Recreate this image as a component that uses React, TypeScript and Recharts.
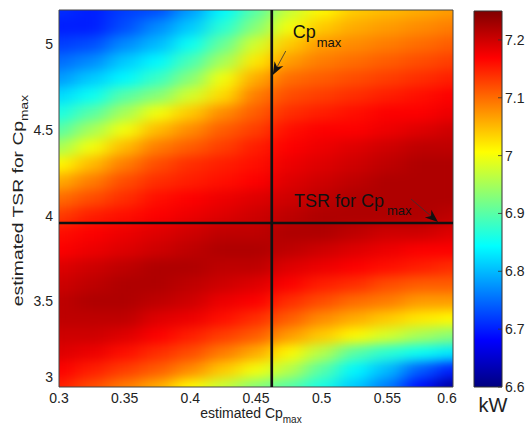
import {
  ScatterChart,
  Scatter,
  XAxis,
  YAxis,
  ReferenceLine,
  ReferenceArea,
  Label,
  BarChart,
  Bar,
} from "recharts";

const FONT = "'Liberation Sans', Arial, Helvetica, sans-serif";

// grid columns: estimated Cp_max
const cpValues = [0.3, 0.325, 0.35, 0.375, 0.4, 0.425, 0.45, 0.475, 0.5, 0.525, 0.55, 0.575, 0.6];
// grid rows: estimated TSR for Cp_max (top row first)
const tsrValues = [5.2, 5.1, 5.0, 4.9, 4.8, 4.7, 4.6, 4.5, 4.4, 4.3, 4.2, 4.1, 4.0, 3.9, 3.8, 3.7, 3.6, 3.5, 3.4, 3.3, 3.2, 3.1, 3.0];
// power (kW), one row per TSR value
const powerKW = [
  [6.71, 6.70, 6.72, 6.73, 6.78, 6.84, 6.90, 6.97, 7.01, 7.04, 7.05, 7.06, 7.07],
  [6.70, 6.70, 6.73, 6.77, 6.81, 6.87, 6.93, 7.00, 7.04, 7.06, 7.07, 7.08, 7.09],
  [6.72, 6.73, 6.77, 6.80, 6.85, 6.91, 6.98, 7.04, 7.07, 7.08, 7.09, 7.10, 7.11],
  [6.75, 6.77, 6.81, 6.84, 6.89, 6.95, 7.02, 7.07, 7.09, 7.10, 7.11, 7.12, 7.13],
  [6.78, 6.81, 6.84, 6.88, 6.93, 7.00, 7.06, 7.10, 7.11, 7.12, 7.13, 7.14, 7.15],
  [6.82, 6.85, 6.90, 6.93, 6.98, 7.03, 7.09, 7.12, 7.13, 7.14, 7.15, 7.16, 7.17],
  [6.86, 6.90, 6.95, 7.00, 7.04, 7.08, 7.11, 7.14, 7.15, 7.16, 7.17, 7.17, 7.18],
  [6.90, 6.95, 7.00, 7.05, 7.08, 7.11, 7.13, 7.16, 7.17, 7.17, 7.18, 7.19, 7.20],
  [6.95, 7.00, 7.05, 7.09, 7.11, 7.13, 7.15, 7.17, 7.18, 7.19, 7.20, 7.21, 7.21],
  [7.01, 7.05, 7.09, 7.12, 7.14, 7.15, 7.16, 7.18, 7.19, 7.20, 7.21, 7.22, 7.22],
  [7.06, 7.09, 7.12, 7.14, 7.15, 7.16, 7.17, 7.19, 7.20, 7.21, 7.22, 7.22, 7.22],
  [7.10, 7.12, 7.14, 7.16, 7.17, 7.18, 7.19, 7.20, 7.21, 7.22, 7.22, 7.22, 7.22],
  [7.13, 7.15, 7.16, 7.17, 7.18, 7.19, 7.20, 7.21, 7.22, 7.22, 7.22, 7.22, 7.21],
  [7.16, 7.17, 7.18, 7.19, 7.20, 7.21, 7.21, 7.22, 7.22, 7.21, 7.20, 7.20, 7.19],
  [7.17, 7.18, 7.19, 7.20, 7.21, 7.22, 7.22, 7.21, 7.20, 7.19, 7.18, 7.17, 7.17],
  [7.19, 7.20, 7.21, 7.22, 7.22, 7.21, 7.21, 7.19, 7.18, 7.17, 7.16, 7.15, 7.14],
  [7.20, 7.21, 7.22, 7.22, 7.21, 7.20, 7.19, 7.17, 7.15, 7.14, 7.12, 7.11, 7.11],
  [7.21, 7.22, 7.22, 7.21, 7.20, 7.18, 7.17, 7.14, 7.12, 7.10, 7.09, 7.07, 7.07],
  [7.21, 7.21, 7.21, 7.19, 7.18, 7.16, 7.14, 7.11, 7.08, 7.06, 7.04, 7.02, 7.01],
  [7.20, 7.20, 7.19, 7.17, 7.15, 7.13, 7.11, 7.07, 7.04, 7.01, 6.98, 6.95, 6.93],
  [7.19, 7.18, 7.16, 7.14, 7.12, 7.09, 7.06, 7.01, 6.96, 6.90, 6.87, 6.85, 6.83],
  [7.17, 7.15, 7.13, 7.11, 7.08, 7.04, 7.00, 6.96, 6.90, 6.84, 6.80, 6.74, 6.70],
  [7.15, 7.12, 7.09, 7.06, 7.01, 6.97, 6.93, 6.90, 6.86, 6.81, 6.76, 6.69, 6.62],
];

const xTicks = [0.3, 0.35, 0.4, 0.45, 0.5, 0.55, 0.6];
const yTicks = [3, 3.5, 4, 4.5, 5];
const colorTicks = [6.6, 6.7, 6.8, 6.9, 7, 7.1, 7.2];
const colorRange = [6.6, 7.25];
const cpMaxEstimate = 0.462;
const tsrEstimate = 3.957;

// layout
const W = 528;
const H = 429;
const MARGIN = { top: 10, right: 75, bottom: 0, left: 0 };
const Y_AXIS_W = 59;
const X_AXIS_H = 42;
const PLOT_LEFT = MARGIN.left + Y_AXIS_W;
const PLOT_TOP = MARGIN.top;
const PLOT_W = W - MARGIN.right - PLOT_LEFT;
const PLOT_H = H - MARGIN.bottom - X_AXIS_H - PLOT_TOP;
const CELL_W = (PLOT_W * (cpValues[1] - cpValues[0])) / (cpValues[cpValues.length - 1] - cpValues[0]);
const CELL_H = (PLOT_H * (tsrValues[0] - tsrValues[1])) / (tsrValues[0] - tsrValues[tsrValues.length - 1]);

const heatData = tsrValues.flatMap((tsr, r) => cpValues.map((cp, c) => ({ cp, tsr, kw: powerKW[r][c] })));

const clamp = (v: number) => Math.max(0, Math.min(1, v));
function jet(value: number) {
  const t = clamp((value - colorRange[0]) / (colorRange[1] - colorRange[0]));
  const r = clamp(1.5 - Math.abs(4 * t - 3));
  const g = clamp(1.5 - Math.abs(4 * t - 2));
  const b = clamp(1.5 - Math.abs(4 * t - 1));
  return `rgb(${Math.round(r * 255)},${Math.round(g * 255)},${Math.round(b * 255)})`;
}
const jetStops = [0, 0.125, 0.375, 0.625, 0.875, 1];

const HeatCell = (props: any) => {
  const { cx, cy, payload } = props;
  return (
    <rect
      x={cx - CELL_W / 2}
      y={cy - CELL_H / 2}
      width={CELL_W + 0.6}
      height={CELL_H + 0.6}
      fill={jet(payload.kw)}
    />
  );
};

const XTick = ({ x, y, payload }: any) => (
  <text x={payload.value === 0.6 ? x - 6 : x} y={y} dy="0.71em" textAnchor="middle" fontSize={14} fill="#222" fontFamily={FONT}>
    {payload.value}
  </text>
);

const YTick = ({ x, y, payload }: any) => (
  <text x={x} y={payload.value === 3 ? y - 10 : y} dy="0.355em" textAnchor="end" fontSize={14} fill="#222" fontFamily={FONT}>
    {payload.value}
  </text>
);

const ColorTick = ({ x, y, payload }: any) => (
  <g>
    <line x1={x - 7} x2={x - 3} y1={y} y2={y} stroke="#333" strokeWidth={0.8} />
    <text x={x} y={y} dy="0.355em" textAnchor="start" fontSize={14} fill="#222" fontFamily={FONT}>
      {payload.value}
    </text>
  </g>
);

function Arrow({ x1, y1, x2, y2, head = 13, half = 5 }: any) {
  const len = Math.hypot(x2 - x1, y2 - y1);
  const ux = (x2 - x1) / len;
  const uy = (y2 - y1) / len;
  const bx = x2 - ux * head;
  const by = y2 - uy * head;
  const nx = x2 - ux * head * 0.7;
  const ny = y2 - uy * head * 0.7;
  const pts = [
    [x2, y2],
    [bx - uy * half, by + ux * half],
    [nx, ny],
    [bx + uy * half, by - ux * half],
  ]
    .map((p) => p.join(","))
    .join(" ");
  return (
    <g>
      <line x1={x1} y1={y1} x2={nx} y2={ny} stroke="#333" strokeWidth={0.8} />
      <polygon points={pts} fill="#111" />
    </g>
  );
}

const CpLabel = ({ viewBox }: any) => {
  const { x, y } = viewBox;
  return (
    <g>
      <text x={x + 21} y={y + 28} fontSize={18} fill="#111" fontFamily={FONT}>
        Cp
        <tspan dx={1} dy={9} fontSize={13}>max</tspan>
      </text>
      <Arrow x1={x + 14} y1={y + 41} x2={x + 1} y2={y + 65} />
    </g>
  );
};

const TsrLabel = ({ viewBox }: any) => {
  const { x, y, width } = viewBox;
  const right = x + width;
  return (
    <g>
      <text x={right - 159} y={y - 16} fontSize={18} fill="#111" fontFamily={FONT}>
        TSR for Cp
        <tspan dx={3} dy={8} fontSize={13}>max</tspan>
      </text>
      <Arrow x1={right - 42} y1={y - 24} x2={right - 15} y2={y - 1} />
    </g>
  );
};

const XTitle = ({ viewBox }: any) => (
  <text x={viewBox.x + viewBox.width / 2 - 5} y={viewBox.y + 31} textAnchor="middle" fontSize={14} fill="#222" fontFamily={FONT}>
    estimated Cp
    <tspan dy={5} fontSize={10}>max</tspan>
  </text>
);

const YTitle = ({ viewBox }: any) => (
  <g transform={`translate(23, ${viewBox.y + viewBox.height / 2 + 2}) rotate(-90) scale(1.38, 1)`}>
    <text x={0} y={0} textAnchor="middle" fontSize={14} fill="#222" fontFamily={FONT}>
      estimated TSR for Cp
      <tspan dy={5} fontSize={10}>max</tspan>
    </text>
  </g>
);

const UnitLabel = ({ viewBox }: any) => (
  <text x={viewBox.x + viewBox.width / 2 + 5} y={viewBox.y + 25} textAnchor="middle" fontSize={20} fill="#222" fontFamily={FONT}>
    kW
  </text>
);

const colorBarData = [{ name: "kW", span: colorRange }];

export default function App() {
  return (
    <div style={{ position: "absolute", left: 0, top: 0, width: W, height: H, background: "#fff", fontFamily: FONT }}>
      <style>{`.heat-layer { filter: url(#heatSmooth); }`}</style>
      <div style={{ position: "absolute", left: 0, top: 0 }}>
        <ScatterChart width={W} height={H} margin={MARGIN}>
          <defs>
            <filter
              id="heatSmooth"
              filterUnits="userSpaceOnUse"
              x={PLOT_LEFT}
              y={PLOT_TOP}
              width={PLOT_W}
              height={PLOT_H}
              colorInterpolationFilters="sRGB"
            >
              <feGaussianBlur stdDeviation={`${CELL_W * 0.32} ${CELL_H * 0.32}`} />
              <feComponentTransfer>
                <feFuncA type="table" tableValues="1 1" />
              </feComponentTransfer>
            </filter>
          </defs>
          <XAxis
            type="number"
            dataKey="cp"
            domain={[0.3, 0.6]}
            ticks={xTicks}
            height={X_AXIS_H}
            tickLine={false}
            axisLine={false}
            tickSize={0}
            tickMargin={6}
            tick={<XTick />}
          >
            <Label content={(p: any) => <XTitle viewBox={p.viewBox} />} />
          </XAxis>
          <YAxis
            type="number"
            dataKey="tsr"
            domain={[3, 5.2]}
            ticks={yTicks}
            width={Y_AXIS_W}
            tickLine={false}
            axisLine={false}
            tickSize={0}
            tickMargin={6}
            tick={<YTick />}
          >
            <Label content={(p: any) => <YTitle viewBox={p.viewBox} />} />
          </YAxis>
          <Scatter
            className="heat-layer"
            data={heatData}
            shape={HeatCell}
            isAnimationActive={false}
            zIndex={0}
          />
          <ReferenceArea x1={0.3} x2={0.6} y1={3} y2={5.2} fill="none" stroke="#444" strokeWidth={1} zIndex={1500} />
          <ReferenceLine
            x={cpMaxEstimate}
            stroke="#111"
            strokeWidth={2.7}
            zIndex={1600}
            label={(p: any) => <CpLabel viewBox={p.viewBox} />}
          />
          <ReferenceLine
            y={tsrEstimate}
            stroke="#111"
            strokeWidth={2.5}
            zIndex={1600}
            label={(p: any) => <TsrLabel viewBox={p.viewBox} />}
          />
        </ScatterChart>
      </div>
      <div style={{ position: "absolute", left: 448, top: 0 }}>
        <BarChart width={80} height={H} data={colorBarData} margin={{ top: 11, right: 0, bottom: 0, left: 26 }} barCategoryGap={0}>
          <defs>
            <linearGradient id="jetBar" x1="0" y1="1" x2="0" y2="0">
              {jetStops.map((t) => (
                <stop key={t} offset={t} stopColor={jet(colorRange[0] + t * (colorRange[1] - colorRange[0]))} />
              ))}
            </linearGradient>
          </defs>
          <XAxis dataKey="name" height={X_AXIS_H} tick={false} tickLine={false} axisLine={false}>
            <Label content={(p: any) => <UnitLabel viewBox={p.viewBox} />} />
          </XAxis>
          <YAxis
            orientation="right"
            type="number"
            domain={colorRange}
            ticks={colorTicks}
            width={26}
            tickLine={false}
            axisLine={false}
            tickSize={0}
            tickMargin={3}
            tick={<ColorTick />}
          />
          <Bar dataKey="span" fill="url(#jetBar)" stroke="#333" strokeWidth={1} isAnimationActive={false} />
        </BarChart>
      </div>
    </div>
  );
}
